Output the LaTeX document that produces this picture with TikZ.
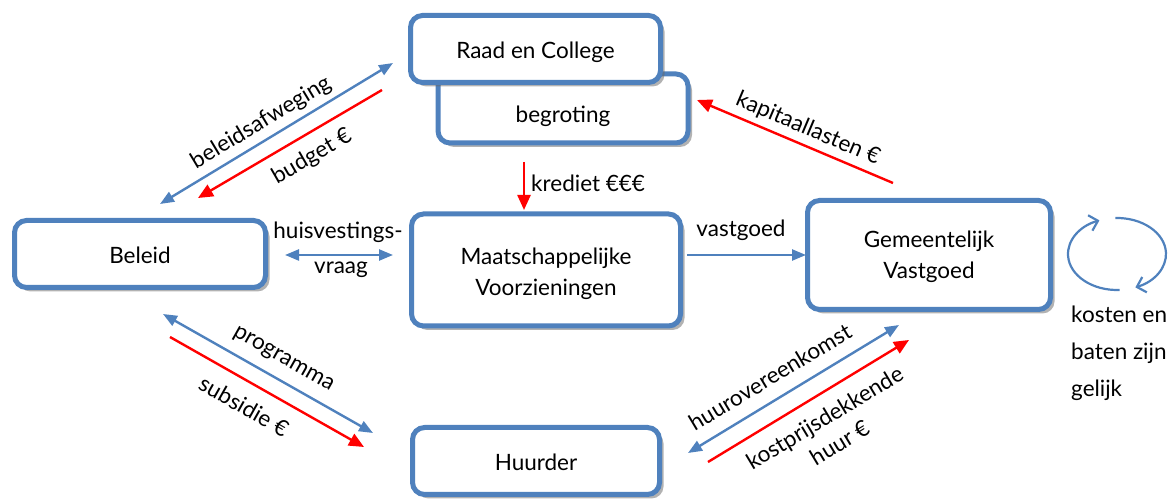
\documentclass[tikz,border=0pt]{standalone}
\usepackage{fontspec}
\setmainfont{Lato}
\usetikzlibrary{arrows.meta,shadows,calc}
\definecolor{bblue}{RGB}{79,129,189}
\definecolor{rred}{RGB}{255,0,0}
\begin{document}
\begin{tikzpicture}[x=1pt,y=-1pt,
  font=\fontsize{22.5}{31}\selectfont,
  box/.style={draw=bblue, line width=5pt, rounded corners=12pt, fill=white,
    drop shadow={shadow xshift=4pt,shadow yshift=-4pt,opacity=0.5,fill=black!60},
    align=center, inner sep=0pt},
  onel/.style={text height=24pt, text depth=5pt},
  barr/.style={draw=bblue, line width=2.4pt, {Triangle[length=14pt,width=11pt]}-{Triangle[length=14pt,width=11pt]}},
  bone/.style={draw=bblue, line width=2.4pt, -{Triangle[length=14pt,width=11pt]}},
  rarr/.style={draw=rred, line width=2.4pt, -{Triangle[length=15pt,width=13pt]}},
  loopar/.style={draw=bblue, line width=2.2pt, -{Straight Barb[length=8pt,width=16pt]}},
  lbl/.style={inner sep=0pt}]
\useasboundingbox (0,0) rectangle (1176,502);

% boxes
\node[box, minimum width=250pt, minimum height=69pt] (begr) at (563,108.5) {};
\node[lbl] (begrt) at (563,116) {begroting};
\node[box, onel, minimum width=250pt, minimum height=67pt] (raad) at (535.5,49) {Raad en College};
\node[box, onel, minimum width=251pt, minimum height=67pt] (beleid) at (140,254) {Beleid};
\node[box, minimum width=269pt, minimum height=112pt] (maat) at (546,270) {};
\node[lbl, align=center] (maatt) at (546,274) {Maatschappelijke\\Voorzieningen};
\node[box, minimum width=243pt, minimum height=109pt] (gem) at (929,255) {};
\node[lbl, align=center] (gemt) at (929,257) {Gemeentelijk\\Vastgoed};
\node[box, onel, minimum width=247pt, minimum height=67pt] (huur) at (536,461) {Huurder};

% arrow end points
\coordinate (a1) at (160,204);  \coordinate (a2) at (393,63);
\coordinate (b1) at (382,90);   \coordinate (b2) at (198,198);
\coordinate (h1) at (285,255);  \coordinate (h2) at (393,255);
\coordinate (k1) at (524,162);  \coordinate (k2) at (524,210);
\coordinate (v1) at (687,255);  \coordinate (v2) at (806,255);
\coordinate (c1) at (893,183);  \coordinate (c2) at (697,100);
\coordinate (p1) at (163,314);  \coordinate (p2) at (373,433);
\coordinate (s1) at (170,337);  \coordinate (s2) at (364,447);
\coordinate (u1) at (688,453);  \coordinate (u2) at (899,325);
\coordinate (q1) at (708,462);  \coordinate (q2) at (909,340);

\draw[barr] (a1) -- (a2);
\draw[rarr] (b1) -- (b2);
\draw[barr] (h1) -- (h2);
\draw[rarr] (k1) -- (k2);
\draw[bone] (v1) -- (v2);
\draw[rarr] (c1) -- (c2);
\draw[barr] (p1) -- (p2);
\draw[rarr] (s1) -- (s2);
\draw[barr] (u1) -- (u2);
\draw[rarr] (q1) -- (q2);

% labels
\node[lbl, rotate=31] (lbw) at (261,123) {beleidsafweging};
\node[lbl, rotate=30] (lbu) at (312,157) {budget €};
\node[lbl] (lhv1) at (338,232) {huisvestings-};
\node[lbl] (lhv2) at (341,270) {vraag};
\node[lbl, anchor=west] (lkr) at (531,183) {krediet €€€};
\node[lbl] (lvg) at (741,230) {vastgoed};
\node[lbl, rotate=-23] (lkap) at (808,129) {kapitaallasten €};
\node[lbl, rotate=-29.5] (lprog) at (283,360) {programma};
\node[lbl, rotate=-29.5] (lsub) at (244,406) {subsidie €};
\node[lbl, rotate=31] (lhov) at (770,377) {huurovereenkomst};
\node[lbl, rotate=31, align=center, font=\fontsize{22.5}{29}\selectfont] (lkost) at (832,430) {kostprijsdekkende\\huur €};

% loop
\coordinate (lc) at (1117,254);
\draw[loopar] ([shift={(-92:49 and 36)}]lc) arc[start angle=-92,end angle=68,x radius=49,y radius=36];
\draw[loopar] ([shift={(87:49 and 36)}]lc) arc[start angle=87,end angle=249,x radius=49,y radius=36];
\node[lbl, align=left, anchor=north west, font=\fontsize{22.5}{37}\selectfont] (lkb) at (1071,306) {kosten en\\baten zijn\\gelijk};
\end{tikzpicture}
\end{document}
